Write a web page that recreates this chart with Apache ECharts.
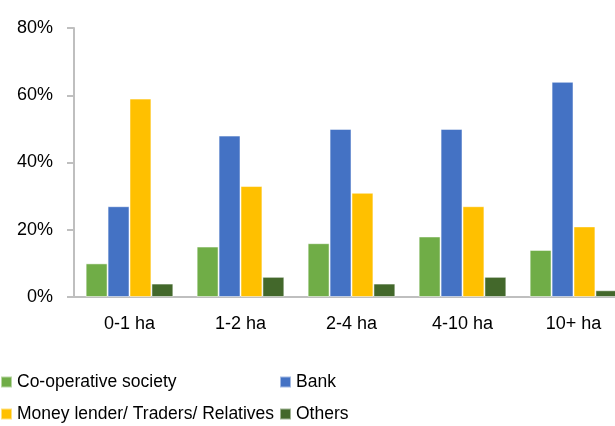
<!DOCTYPE html>
<html>
<head>
<meta charset="utf-8">
<script src="https://cdn.jsdelivr.net/npm/echarts@6/dist/echarts.min.js"></script>
<style>
html, body { margin: 0; padding: 0; background: #fff; }
#bar { width: 615px; height: 426px; }
</style>
</head>
<body>
<div id="bar"></div>
<script>
// 数据
let categories = ['0-1 ha', '1-2 ha', '2-4 ha', '4-10 ha', '10+ ha'];
let coopData = [10, 15, 16, 18, 14];
let bankData = [27, 48, 50, 50, 64];
let lenderData = [59, 33, 31, 27, 21];
let otherData = [4, 6, 4, 6, 2];
let yTicks = [0, 20, 40, 60, 80];

let fontName = 'Liberation Sans';
let fontSize = 18;
let myChart = echarts.init(document.getElementById('bar'));

function makeBar(name, color, data) {
	return {
		name: name,
		type: 'bar',
		data: data,
		barGap: '0%',
		barCategoryGap: '21%',
		itemStyle: {
			color: color,
			borderColor: 'rgba(255,255,255,0.5)',
			borderWidth: 1
		}
	};
}

// 图例 每个单独放
function makeLegend(name, left, top) {
	return {
		left: left,
		top: top,
		padding: 0,
		itemWidth: 11,
		itemHeight: 11,
		icon: 'rect',
		textStyle: { fontSize: 17.5, color: '#000', fontFamily: fontName },
		data: [name]
	};
}

myChart.setOption({
	animation: false,
	textStyle: { fontFamily: fontName },
	grid: {
		left: 74,
		top: 28,
		width: 555,
		height: 269,
		outerBoundsMode: 'none'
	},
	legend: [
		makeLegend('Co-operative society', 0, 373),
		makeLegend('Bank', 279, 373),
		makeLegend('Money lender/ Traders/ Relatives', 0, 405),
		makeLegend('Others', 279, 405)
	],
	xAxis: {
		type: 'category',
		data: categories,
		axisLine: { lineStyle: { color: '#bfbfbf', width: 2 } },
		axisTick: { show: false },
		axisLabel: { fontSize: fontSize, color: '#000', margin: 18 }
	},
	yAxis: {
		type: 'value',
		min: yTicks[0],
		max: yTicks[yTicks.length - 1],
		interval: 20,
		splitLine: { show: false },
		axisLine: { show: true, lineStyle: { color: '#bfbfbf', width: 2 } },
		axisTick: { show: true, length: 7, lineStyle: { color: '#bfbfbf', width: 2 } },
		axisLabel: { fontSize: fontSize, color: '#000', margin: 21, formatter: '{value}%' }
	},
	series: [
		makeBar('Co-operative society', '#70ad47', coopData),
		makeBar('Bank', '#4472c4', bankData),
		makeBar('Money lender/ Traders/ Relatives', '#ffc000', lenderData),
		makeBar('Others', '#43682b', otherData)
	]
});
</script>
</body>
</html>
